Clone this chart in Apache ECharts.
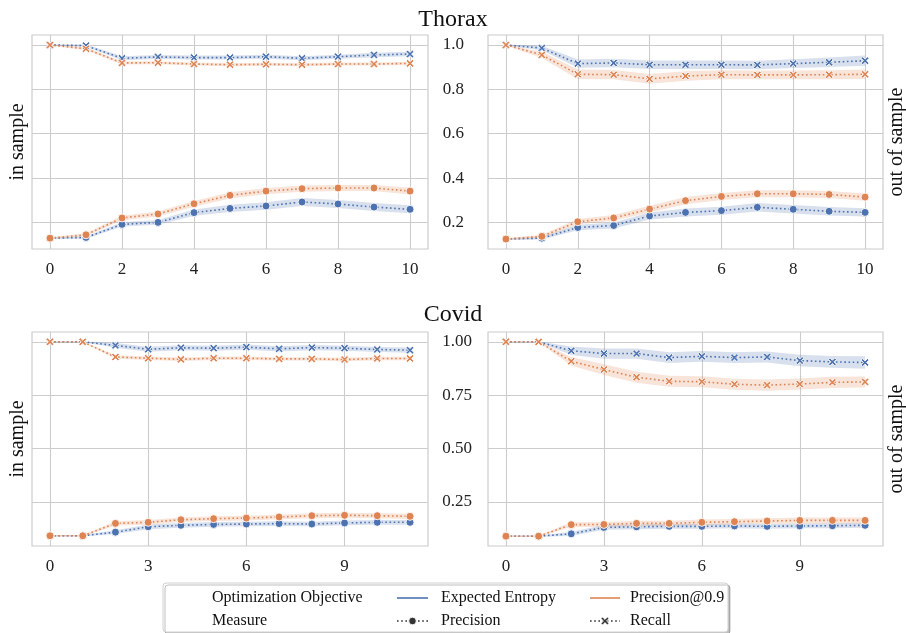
<!DOCTYPE html>
<html>
<head>
<meta charset="utf-8">
<script src="https://cdn.jsdelivr.net/npm/echarts@6/dist/echarts.min.js"></script>
<style>
  html, body { margin: 0; padding: 0; background: #fff; }
  #chart { width: 906px; height: 633px; }
</style>
</head>
<body>
<div id="chart"></div>
<script>
// x steps
const stepsThorax = [0, 1, 2, 3, 4, 5, 6, 7, 8, 9, 10];
const stepsCovid = [0, 1, 2, 3, 4, 5, 6, 7, 8, 9, 10, 11];
const ticksThoraxX = [0, 2, 4, 6, 8, 10];
const ticksCovidX = [0, 3, 6, 9];
const ticksThoraxY = [0.2, 0.4, 0.6, 0.8, 1.0];
const ticksCovidY = [0.25, 0.5, 0.75, 1.0];

// Thorax, in sample
const thoraxInEntPrec = [0.129, 0.132, 0.191, 0.200, 0.244, 0.263, 0.274, 0.292, 0.283, 0.269, 0.259];
const thoraxInEntRec = [1.0, 0.997, 0.940, 0.946, 0.943, 0.943, 0.947, 0.940, 0.947, 0.955, 0.959];
const thoraxInP90Prec = [0.129, 0.144, 0.220, 0.238, 0.284, 0.322, 0.341, 0.352, 0.355, 0.355, 0.341];
const thoraxInP90Rec = [1.0, 0.983, 0.919, 0.920, 0.914, 0.911, 0.913, 0.911, 0.914, 0.914, 0.917];
const thoraxInEntPrecCI = [0.004, 0.006, 0.010, 0.011, 0.014, 0.016, 0.017, 0.018, 0.018, 0.018, 0.018];
const thoraxInEntRecCI = [0.002, 0.005, 0.009, 0.009, 0.009, 0.009, 0.009, 0.009, 0.009, 0.010, 0.010];
const thoraxInP90PrecCI = [0.004, 0.007, 0.010, 0.011, 0.013, 0.014, 0.014, 0.014, 0.014, 0.014, 0.015];
const thoraxInP90RecCI = [0.002, 0.007, 0.007, 0.007, 0.007, 0.007, 0.007, 0.007, 0.007, 0.007, 0.007];

// Thorax, out of sample
const thoraxOutEntPrec = [0.125, 0.129, 0.177, 0.186, 0.229, 0.245, 0.253, 0.268, 0.259, 0.250, 0.245];
const thoraxOutEntRec = [1.0, 0.986, 0.916, 0.919, 0.911, 0.911, 0.911, 0.910, 0.916, 0.922, 0.929];
const thoraxOutP90Prec = [0.125, 0.137, 0.203, 0.220, 0.260, 0.298, 0.317, 0.329, 0.329, 0.326, 0.314];
const thoraxOutP90Rec = [1.0, 0.955, 0.868, 0.866, 0.847, 0.860, 0.866, 0.865, 0.865, 0.866, 0.868];
const thoraxOutEntPrecCI = [0.004, 0.006, 0.012, 0.013, 0.016, 0.018, 0.018, 0.019, 0.019, 0.019, 0.019];
const thoraxOutEntRecCI = [0.002, 0.010, 0.019, 0.019, 0.019, 0.019, 0.019, 0.019, 0.020, 0.021, 0.023];
const thoraxOutP90PrecCI = [0.004, 0.007, 0.012, 0.013, 0.015, 0.016, 0.016, 0.016, 0.016, 0.016, 0.016];
const thoraxOutP90RecCI = [0.002, 0.014, 0.021, 0.021, 0.022, 0.021, 0.020, 0.020, 0.020, 0.020, 0.021];

// Covid, in sample
const covidInEntPrec = [0.091, 0.091, 0.108, 0.133, 0.140, 0.144, 0.146, 0.148, 0.146, 0.151, 0.154, 0.154];
const covidInEntRec = [1.0, 1.0, 0.983, 0.965, 0.972, 0.970, 0.975, 0.967, 0.973, 0.970, 0.964, 0.961];
const covidInP90Prec = [0.091, 0.091, 0.149, 0.154, 0.166, 0.171, 0.174, 0.179, 0.185, 0.187, 0.185, 0.182];
const covidInP90Rec = [1.0, 1.0, 0.929, 0.923, 0.918, 0.923, 0.923, 0.920, 0.920, 0.917, 0.922, 0.922];
const covidInEntPrecCI = [0.003, 0.003, 0.009, 0.011, 0.011, 0.011, 0.011, 0.011, 0.011, 0.011, 0.011, 0.011];
const covidInEntRecCI = [0.002, 0.002, 0.011, 0.012, 0.012, 0.012, 0.012, 0.012, 0.012, 0.012, 0.012, 0.012];
const covidInP90PrecCI = [0.003, 0.003, 0.010, 0.011, 0.011, 0.011, 0.011, 0.011, 0.012, 0.012, 0.012, 0.012];
const covidInP90RecCI = [0.002, 0.002, 0.008, 0.008, 0.008, 0.008, 0.008, 0.008, 0.008, 0.008, 0.008, 0.008];

// Covid, out of sample
const covidOutEntPrec = [0.089, 0.089, 0.100, 0.130, 0.133, 0.135, 0.135, 0.137, 0.135, 0.137, 0.138, 0.140];
const covidOutEntRec = [1.0, 1.0, 0.958, 0.945, 0.945, 0.926, 0.932, 0.926, 0.929, 0.912, 0.906, 0.903];
const covidOutP90Prec = [0.089, 0.089, 0.143, 0.144, 0.149, 0.149, 0.154, 0.157, 0.160, 0.163, 0.163, 0.163];
const covidOutP90Rec = [1.0, 1.0, 0.909, 0.870, 0.834, 0.815, 0.813, 0.801, 0.797, 0.802, 0.810, 0.812];
const covidOutEntPrecCI = [0.003, 0.003, 0.010, 0.011, 0.011, 0.011, 0.011, 0.011, 0.011, 0.011, 0.012, 0.012];
const covidOutEntRecCI = [0.002, 0.002, 0.020, 0.024, 0.024, 0.025, 0.025, 0.025, 0.026, 0.027, 0.028, 0.029];
const covidOutP90PrecCI = [0.003, 0.003, 0.011, 0.012, 0.012, 0.012, 0.013, 0.013, 0.013, 0.014, 0.014, 0.014];
const covidOutP90RecCI = [0.002, 0.002, 0.020, 0.025, 0.026, 0.026, 0.026, 0.026, 0.026, 0.026, 0.026, 0.026];

const BLUE = '#4c72b0';
const ORANGE = '#dd8452';
const FONT = 'Liberation Serif';
const GRIDC = '#cccccc';
const XMARK = 'path://M0,2 L2,0 L5,3 L8,0 L10,2 L7,5 L10,8 L8,10 L5,7 L2,10 L0,8 L3,5 Z';

var dom = document.getElementById('chart');
var chart = echarts.init(dom, null, { renderer: 'canvas' });

let grids = [
    { left: 32, top: 35, width: 396, height: 214 },
    { left: 488, top: 35, width: 395, height: 214 },
    { left: 32, top: 332, width: 396, height: 214 },
    { left: 488, top: 332, width: 395, height: 214 }
].map(g => Object.assign(g, { show: true, borderColor: GRIDC, borderWidth: 1.2, backgroundColor: '#fff' }));

let makeX = (gi, min, max, ticks) => ({
    type: 'value', gridIndex: gi, min, max,
    axisLine: { show: false },
    axisTick: { show: false, customValues: ticks },
    axisLabel: { customValues: ticks, fontFamily: FONT, fontSize: 17, color: '#222', margin: 12 },
    splitLine: { show: true, lineStyle: { color: GRIDC, width: 1.1 } }
});

let makeY = (gi, min, max, ticks, showLabel, digits, margin) => ({
    type: 'value', gridIndex: gi, min, max,
    axisLine: { show: false },
    axisTick: { show: false, customValues: ticks },
    axisLabel: {
        show: showLabel, customValues: ticks, fontFamily: FONT, fontSize: 17, color: '#222',
        margin: margin, formatter: v => v.toFixed(digits)
    },
    splitLine: { show: true, lineStyle: { color: GRIDC, width: 1.1 } }
});

let xAxes = [
    makeX(0, -0.5, 10.5, ticksThoraxX),
    makeX(1, -0.5, 10.5, ticksThoraxX),
    makeX(2, -0.55, 11.55, ticksCovidX),
    makeX(3, -0.55, 11.55, ticksCovidX)
];
let yAxes = [
    makeY(0, 0.08, 1.045, ticksThoraxY, false, 1, 20),
    makeY(1, 0.08, 1.045, ticksThoraxY, true, 1, 24),
    makeY(2, 0.043, 1.046, ticksCovidY, false, 2, 16),
    makeY(3, 0.043, 1.046, ticksCovidY, true, 2, 16)
];

let series = [];

let bandSeries = (gi, xs, vals, ci, color) => ({
    type: 'custom', xAxisIndex: gi, yAxisIndex: gi, z: 1, silent: true,
    data: xs.map((x, i) => [x, vals[i]]),
    renderItem: (params, api) => {
        if (params.dataIndex !== 0) return null;
        let upper = xs.map((x, i) => api.coord([x, vals[i] + ci[i]]));
        let lower = xs.map((x, i) => api.coord([x, vals[i] - ci[i]])).reverse();
        return {
            type: 'polygon',
            shape: { points: upper.concat(lower) },
            style: { fill: color, opacity: 0.22 }
        };
    }
});

let lineSeries = (gi, xs, vals, color, symbol, size) => ({
    type: 'line', xAxisIndex: gi, yAxisIndex: gi, z: 3,
    data: xs.map((x, i) => [x, vals[i]]),
    symbol: symbol, symbolSize: size, showAllSymbol: true,
    lineStyle: { color: color, width: 1.6, type: [1.6, 2.6] },
    itemStyle: { color: color, borderColor: '#fff', borderWidth: 0.9 }
});

let addPanel = (gi, xs, ep, er, pp, pr, epCI, erCI, ppCI, prCI) => {
    series.push(bandSeries(gi, xs, ep, epCI, BLUE));
    series.push(bandSeries(gi, xs, er, erCI, BLUE));
    series.push(bandSeries(gi, xs, pp, ppCI, ORANGE));
    series.push(bandSeries(gi, xs, pr, prCI, ORANGE));
    series.push(lineSeries(gi, xs, ep, BLUE, 'circle', 8));
    series.push(lineSeries(gi, xs, er, BLUE, XMARK, 8));
    series.push(lineSeries(gi, xs, pp, ORANGE, 'circle', 8));
    series.push(lineSeries(gi, xs, pr, ORANGE, XMARK, 8));
};

addPanel(0, stepsThorax, thoraxInEntPrec, thoraxInEntRec, thoraxInP90Prec, thoraxInP90Rec,
    thoraxInEntPrecCI, thoraxInEntRecCI, thoraxInP90PrecCI, thoraxInP90RecCI);
addPanel(1, stepsThorax, thoraxOutEntPrec, thoraxOutEntRec, thoraxOutP90Prec, thoraxOutP90Rec,
    thoraxOutEntPrecCI, thoraxOutEntRecCI, thoraxOutP90PrecCI, thoraxOutP90RecCI);
addPanel(2, stepsCovid, covidInEntPrec, covidInEntRec, covidInP90Prec, covidInP90Rec,
    covidInEntPrecCI, covidInEntRecCI, covidInP90PrecCI, covidInP90RecCI);
addPanel(3, stepsCovid, covidOutEntPrec, covidOutEntRec, covidOutP90Prec, covidOutP90Rec,
    covidOutEntPrecCI, covidOutEntRecCI, covidOutP90PrecCI, covidOutP90RecCI);

let txt = (x, y, text, size) => ({
    type: 'text', x, y,
    style: { text, fontFamily: FONT, fontSize: size, fill: '#111', verticalAlign: 'middle' }
});

let rotTxt = (x, y, text) => ({
    type: 'text', x, y, rotation: Math.PI / 2,
    style: { text, fontFamily: FONT, fontSize: 20, fill: '#111', align: 'center', verticalAlign: 'middle' }
});

// legend box (drawn by hand, seaborn style)
let legend = [
    {
        type: 'rect', shape: { x: 163, y: 583, width: 565, height: 49, r: 3 },
        style: { fill: '#fff', stroke: '#d0d0d0', lineWidth: 1, shadowColor: 'rgba(0,0,0,0.25)', shadowOffsetX: 2, shadowOffsetY: 2 }
    },
    txt(212, 598, 'Optimization Objective', 16),
    txt(212, 621, 'Measure', 16),
    { type: 'line', shape: { x1: 397, y1: 598, x2: 428, y2: 598 }, style: { stroke: BLUE, lineWidth: 1.6 } },
    txt(441, 598, 'Expected Entropy', 16),
    { type: 'line', shape: { x1: 590, y1: 598, x2: 620, y2: 598 }, style: { stroke: ORANGE, lineWidth: 1.6 } },
    txt(630, 598, 'Precision@0.9', 16),
    { type: 'line', shape: { x1: 397, y1: 621, x2: 428, y2: 621 }, style: { stroke: '#333', lineWidth: 1.6, lineDash: [1.6, 2.6] } },
    { type: 'circle', shape: { cx: 412.5, cy: 621, r: 3.8 }, style: { fill: '#333', stroke: '#fff', lineWidth: 0.9 } },
    txt(441, 621, 'Precision', 16),
    { type: 'line', shape: { x1: 590, y1: 621, x2: 620, y2: 621 }, style: { stroke: '#333', lineWidth: 1.6, lineDash: [1.6, 2.6] } },
    {
        type: 'polygon',
        shape: { points: [[601, 618.6], [602.6, 617], [605, 619.4], [607.4, 617], [609, 618.6], [606.6, 621], [609, 623.4], [607.4, 625], [605, 622.6], [602.6, 625], [601, 623.4], [603.4, 621]] },
        style: { fill: '#333', stroke: '#fff', lineWidth: 0.9 }
    },
    txt(630, 621, 'Recall', 16)
];

var option = {
    animation: false,
    title: [
        { text: 'Thorax', left: 'center', top: 3, textStyle: { fontFamily: FONT, fontSize: 24, fontWeight: 'normal', color: '#111' } },
        { text: 'Covid', left: 'center', top: 298, textStyle: { fontFamily: FONT, fontSize: 24, fontWeight: 'normal', color: '#111' } }
    ],
    grid: grids,
    xAxis: xAxes,
    yAxis: yAxes,
    series: series,
    graphic: [
        rotTxt(18, 142, 'in sample'),
        rotTxt(18, 439, 'in sample'),
        rotTxt(897, 142, 'out of sample'),
        rotTxt(897, 439, 'out of sample')
    ].concat(legend)
};

chart.setOption(option);
window.addEventListener('resize', chart.resize);
</script>
</body>
</html>
